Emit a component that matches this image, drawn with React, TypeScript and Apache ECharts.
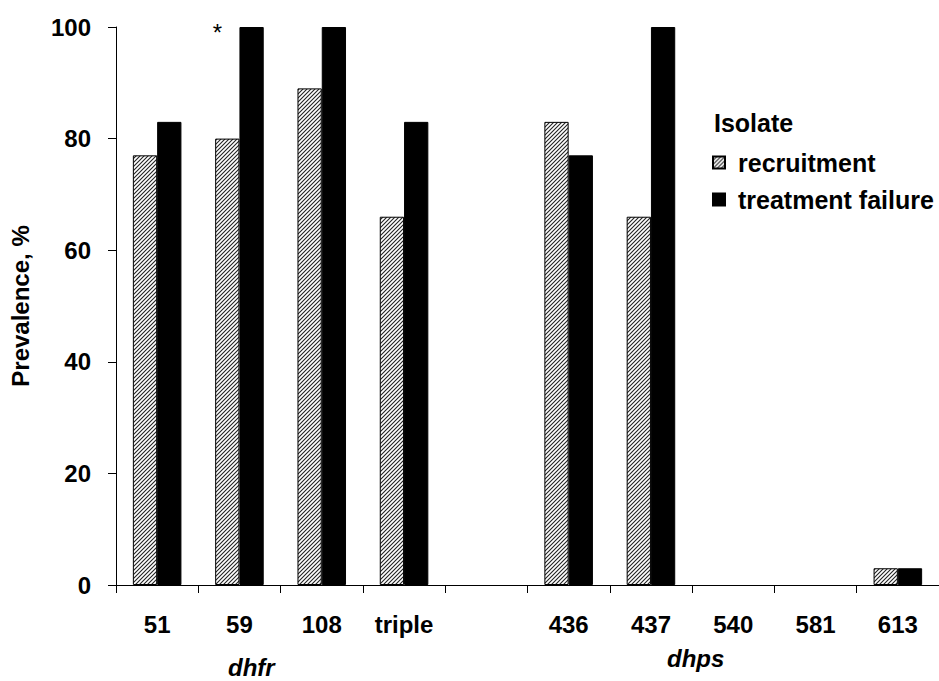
import React, { useEffect, useRef } from "react";
import * as echarts from "echarts";

// Mutation sites along the x axis (empty slot separates the two genes)
const categories = ["51", "59", "108", "triple", "", "436", "437", "540", "581", "613"];
// Prevalence (%) of each mutation per isolate group
const recruitment = [77, 80, 89, 66, null, 83, 66, 0, 0, 3];
const treatmentFailure = [83, 100, 100, 83, null, 77, 100, 0, 0, 3];
const yTicks = { min: 0, max: 100, interval: 20 };
const geneLabels = ["dhfr", "dhps"];
const seriesNames = ["recruitment", "treatment failure"];

const FONT = "'Liberation Sans', Arial, Helvetica, sans-serif";

function makeHatch(): HTMLCanvasElement {
  const c = document.createElement("canvas");
  const s = 4;
  c.width = s;
  c.height = s;
  const ctx = c.getContext("2d")!;
  ctx.fillStyle = "#fff";
  ctx.fillRect(0, 0, s, s);
  ctx.strokeStyle = "#222";
  ctx.lineWidth = 1.1;
  ctx.beginPath();
  ctx.moveTo(-1, s + 1);
  ctx.lineTo(s + 1, -1);
  ctx.moveTo(-1, 1);
  ctx.lineTo(1, -1);
  ctx.moveTo(s - 1, s + 1);
  ctx.lineTo(s + 1, s - 1);
  ctx.stroke();
  return c;
}

// zero-valued bars get no outline so they leave no mark on the axis
const toItems = (vals: (number | null)[]) =>
  vals.map((v) => (v === 0 ? { value: 0, itemStyle: { borderWidth: 0 } } : v));

export default function App() {
  const ref = useRef<HTMLDivElement>(null);

  useEffect(() => {
    if (!ref.current) return;
    const chart = echarts.init(ref.current, undefined, { renderer: "svg" });
    const hatch = { image: makeHatch(), repeat: "repeat" };

    chart.setOption({
      animation: false,
      backgroundColor: "#fff",
      textStyle: { fontFamily: FONT },
      grid: { left: 114, top: 27, width: 829, bottom: 96, containLabel: false },
      title: {
        text: "Isolate",
        left: 709,
        top: 105,
        textStyle: { fontFamily: FONT, fontWeight: "bold", fontSize: 25, color: "#000" },
      },
      legend: {
        orient: "vertical",
        left: 707,
        top: 145,
        itemWidth: 12,
        itemHeight: 12,
        itemGap: 12,
        icon: "rect",
        data: seriesNames,
        textStyle: {
          fontFamily: FONT,
          fontWeight: "bold",
          fontSize: 25,
          lineHeight: 24,
          color: "#000",
          padding: [0, 0, 0, 8],
        },
      },
      xAxis: {
        type: "category",
        data: categories,
        axisLine: { lineStyle: { color: "#000", width: 1 } },
        axisTick: { show: true, length: 8, lineStyle: { color: "#000" } },
        axisLabel: {
          interval: 0,
          margin: 27,
          fontFamily: FONT,
          fontWeight: "bold",
          fontSize: 24,
          color: "#000",
        },
        splitLine: { show: false },
      },
      yAxis: {
        type: "value",
        min: yTicks.min,
        max: yTicks.max,
        interval: yTicks.interval,
        name: "Prevalence, %",
        nameLocation: "middle",
        nameGap: 84,
        nameRotate: 90,
        nameTextStyle: { fontFamily: FONT, fontWeight: "bold", fontSize: 24, color: "#000" },
        axisLine: { show: true, lineStyle: { color: "#000", width: 1 } },
        axisTick: { show: true, length: 8, lineStyle: { color: "#000" } },
        axisLabel: { margin: 25, fontFamily: FONT, fontWeight: "bold", fontSize: 24, color: "#000" },
        splitLine: { show: false },
      },
      series: [
        {
          name: seriesNames[0],
          type: "bar",
          data: toItems(recruitment),
          barGap: "0%",
          barCategoryGap: "41%",
          itemStyle: { color: hatch, borderColor: "#000", borderWidth: 1 },
          markPoint: {
            symbol: "circle",
            symbolSize: 0,
            itemStyle: { color: "transparent" },
            label: {
              show: true,
              position: "inside",
              formatter: "*",
              fontFamily: FONT,
              fontSize: 24,
              color: "#000",
              offset: [-10, 5],
            },
            data: [{ coord: [categories[1], 100] }],
          },
        },
        {
          name: seriesNames[1],
          type: "bar",
          data: toItems(treatmentFailure),
          barGap: "0%",
          barCategoryGap: "41%",
          itemStyle: { color: "#000", borderColor: "#000", borderWidth: 1 },
        },
      ],
      graphic: [
        {
          type: "text",
          left: 252 - 24,
          top: 655,
          style: {
            text: geneLabels[0],
            font: `italic bold 24px ${FONT}`,
            fill: "#000",
          },
        },
        {
          type: "text",
          left: 695 - 28,
          top: 646,
          style: {
            text: geneLabels[1],
            font: `italic bold 24px ${FONT}`,
            fill: "#000",
          },
        },
      ],
    });

    return () => chart.dispose();
  }, []);

  return (
    <div
      ref={ref}
      style={{ position: "absolute", left: 0, top: 0, width: 939, height: 681, background: "#fff" }}
    />
  );
}
